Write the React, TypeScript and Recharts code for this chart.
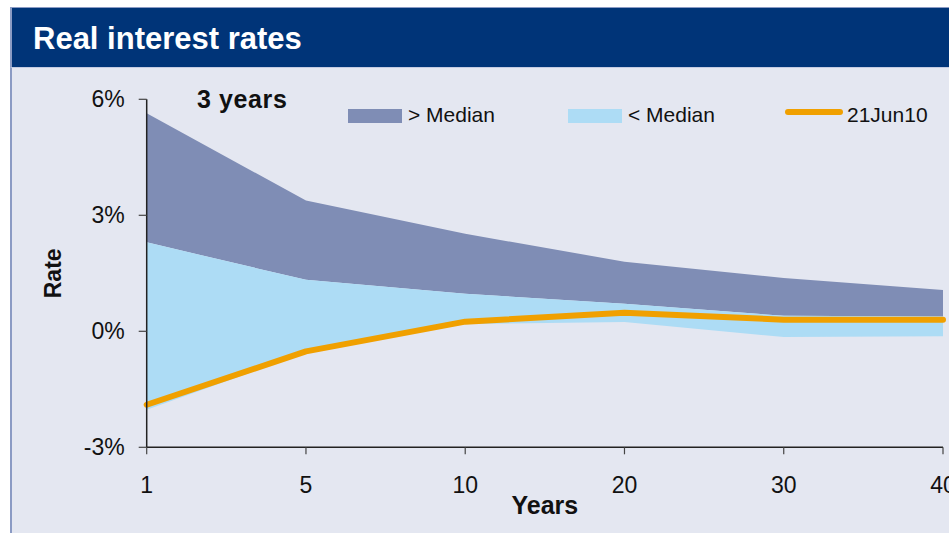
import React from 'react';
import { ComposedChart, Area, Line, XAxis, YAxis, Label } from 'recharts';

const years = ['1', '5', '10', '20', '30', '40'];
const upperBand = [5.64, 3.38, 2.52, 1.8, 1.38, 1.07];
const medianBand = [2.3, 1.33, 0.97, 0.71, 0.4, 0.38];
const lowerBand = [-2.03, -0.55, 0.19, 0.24, -0.15, -0.13];
const jun10 = [-1.9, -0.52, 0.25, 0.48, 0.3, 0.3];
const yTicks = [-3, 0, 3, 6];

const tableData = years.map((y, i) => ({
  year: y,
  above: [medianBand[i], upperBand[i]],
  below: [lowerBand[i], medianBand[i]],
  jun: jun10[i],
}));

const FONT = '"Liberation Sans", Arial, sans-serif';
const DARK = '#7F8DB5';
const LIGHT = '#ADDCF5';
const ORANGE = '#F0A000';

export default function App() {
  return (
    <div style={{ position: 'absolute', left: 0, top: 0, width: 949, height: 533, background: '#fff', overflow: 'hidden', fontFamily: FONT }}>
      <div style={{ position: 'absolute', left: 10, top: 7, width: 939, height: 60, background: '#003478', borderTop: '1px solid #8B9BC4', borderLeft: '2px solid #8B9BC4', boxSizing: 'border-box' }} />
      <div style={{ position: 'absolute', left: 10, top: 67, width: 939, height: 466, background: '#E4E7F1', borderLeft: '2px solid #8B9BC4', borderTop: '1px solid #C3CBE2', boxSizing: 'border-box' }} />
      <div style={{ position: 'absolute', left: 0, top: 0 }}>
        <ComposedChart width={949} height={533} data={tableData} margin={{ top: 99.3, right: 6, bottom: 0, left: 0 }}>
          <XAxis
            dataKey="year"
            type="category"
            height={85.7}
            padding={{ left: 0, right: 0 }}
            tickSize={7}
            tickMargin={22}
            axisLine={{ stroke: '#222', strokeWidth: 1.5 }}
            tickLine={{ stroke: '#444', strokeWidth: 1.2 }}
            tick={{ fontSize: 23, fill: '#111', fontFamily: FONT }}
            interval={0}
          >
            <Label value="Years" position="insideBottom" offset={19} style={{ fontSize: 25, fontWeight: 'bold', fill: '#111', fontFamily: FONT }} />
          </XAxis>
          <YAxis
            type="number"
            domain={[-3, 6]}
            ticks={yTicks}
            width={146.7}
            tickSize={8}
            tickMargin={14}
            tickFormatter={(v: number) => `${v}%`}
            axisLine={{ stroke: '#222', strokeWidth: 1.5 }}
            tickLine={{ stroke: '#444', strokeWidth: 1.2 }}
            tick={{ fontSize: 23, fill: '#111', fontFamily: FONT }}
            interval={0}
          >
            <Label
              content={(props: any) => {
                const vb = props.viewBox || {};
                const cy = (vb.y ?? 99) + (vb.height ?? 348) / 2;
                const cx = 61;
                return (
                  <text x={cx} y={cy} transform={`rotate(-90 ${cx} ${cy})`} textAnchor="middle" style={{ fontSize: 23, fontWeight: 'bold', fill: '#111', fontFamily: FONT }}>
                    Rate
                  </text>
                );
              }}
            />
          </YAxis>
          <Area type="linear" dataKey="above" fill={DARK} fillOpacity={1} stroke="none" isAnimationActive={false} />
          <Area type="linear" dataKey="below" fill={LIGHT} fillOpacity={1} stroke="none" isAnimationActive={false} />
          <Line type="linear" dataKey="jun" stroke={ORANGE} strokeWidth={6} strokeLinecap="round" strokeLinejoin="round" dot={false} activeDot={false} isAnimationActive={false} />
        </ComposedChart>
      </div>
      <svg width={949} height={533} style={{ position: 'absolute', left: 0, top: 0, pointerEvents: 'none' }}>
        <text x={33} y={49} style={{ fontSize: 31, fontWeight: 'bold', fill: '#fff', fontFamily: FONT }}>Real interest rates</text>
        <text x={197} y={108} style={{ fontSize: 25, fontWeight: 'bold', fill: '#111', fontFamily: FONT, letterSpacing: 0.6 }}>3 years</text>
        <rect x={348} y={109} width={54} height={14} fill={DARK} />
        <text x={408} y={121.5} style={{ fontSize: 21, fill: '#111', fontFamily: FONT }}>&gt; Median</text>
        <rect x={568} y={109} width={54} height={14} fill={LIGHT} />
        <text x={628} y={121.5} style={{ fontSize: 21, fill: '#111', fontFamily: FONT }}>&lt; Median</text>
        <line x1={788} y1={112} x2={840} y2={112} stroke={ORANGE} strokeWidth={6} strokeLinecap="round" />
        <text x={847} y={121.5} style={{ fontSize: 21, fill: '#111', fontFamily: FONT }}>21Jun10</text>
      </svg>
    </div>
  );
}
